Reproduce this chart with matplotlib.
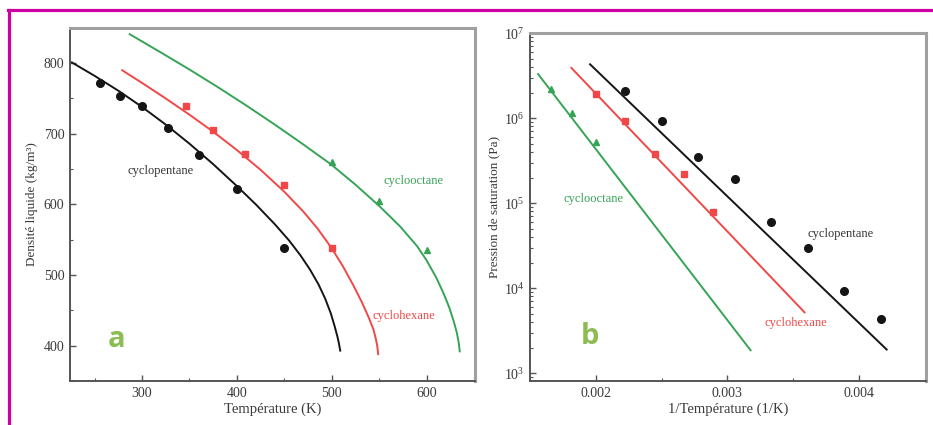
import numpy as np
import matplotlib
matplotlib.use("Agg")
import matplotlib.pyplot as plt
from matplotlib.lines import Line2D
from matplotlib.ticker import MultipleLocator, LogLocator, LogFormatterMathtext, NullFormatter

plt.rcParams['font.family'] = ['Liberation Serif', 'DejaVu Serif']
plt.rcParams['mathtext.fontset'] = 'stix'

# --- panel a : liquid density vs temperature ---
T_cp = [256, 277, 300, 327, 360, 400, 450]
rho_cp = [772, 754, 739, 708, 670, 622, 538]
T_ch = [346, 375, 409, 450, 500]
rho_ch = [739, 705, 672, 627, 538]
T_co = [500, 550, 600]
rho_co = [660, 605, 535]

# model curves
Tc_cp = [226, 250, 275, 300, 325, 350, 375, 400, 420, 440, 455, 467, 477, 486,
         493, 499, 503, 506, 507.5, 509]
rc_cp = [801, 782, 761, 738, 713, 686, 657, 626, 600, 572, 549, 528, 508, 487,
         467, 446, 428, 413, 404, 393]
Tc_ch = [279, 300, 325, 350, 375, 400, 425, 450, 470, 485, 500, 512, 523, 532,
         539, 544, 546.5, 548, 549]
rc_ch = [790, 772, 750, 727, 703, 677, 649, 618, 590, 566, 538, 512, 485, 461,
         440, 423, 410, 400, 388]
Tc_co = [287, 320, 350, 380, 410, 440, 470, 500, 525, 550, 572, 590, 600, 610,
         618, 624, 629, 632, 634, 635]
rc_co = [841, 815, 791, 766, 740, 713, 685, 656, 628, 598, 569, 541, 521, 497,
         474, 454, 433, 418, 404, 392]

# --- panel b : saturation pressure vs 1/T ---
invT_cp = [0.00222, 0.00250, 0.00278, 0.00306, 0.00333, 0.00361, 0.00389, 0.00417]
P_cp = [2.1e6, 9.3e5, 3.5e5, 1.9e5, 6.0e4, 3.0e4, 9.2e3, 4.4e3]
invT_ch = [0.00200, 0.00222, 0.00245, 0.00267, 0.00289]
P_ch = [1.9e6, 9.3e5, 3.8e5, 2.2e5, 7.8e4]
invT_co = [0.00166, 0.00182, 0.00200]
P_co = [2.2e6, 1.14e6, 5.3e5]

lineT_cp = [0.001957, 0.004211]
lineP_cp = [4.3e6, 1.9e3]
lineT_ch = [0.001815, 0.003587]
lineP_ch = [3.9e6, 5.2e3]
lineT_co = [0.001562, 0.003177]
lineP_co = [3.3e6, 1.86e3]

black = '#151515'
red = '#f04848'
green = '#36a456'
txt = '#3a3a3a'

fig = plt.figure(figsize=(9.33, 4.25), dpi=100)
ax1 = fig.add_axes([0.075, 0.1035, 0.434, 0.831])
ax2 = fig.add_axes([0.568, 0.1035, 0.4245, 0.8185])


def style(ax):
    for s in ['left', 'bottom']:
        ax.spines[s].set_color('#555555')
        ax.spines[s].set_linewidth(1.4)
    for s in ['top', 'right']:
        ax.spines[s].set_color('#a0a0a0')
        ax.spines[s].set_linewidth(2.2)
    ax.tick_params(which='both', direction='in', colors='#555555', labelcolor=txt,
                   labelsize=10, top=False, right=False, pad=4)
    ax.tick_params(which='major', length=4, width=1)
    ax.tick_params(which='minor', length=2.5, width=0.8)


# panel a
ax1.plot(Tc_cp, rc_cp, color=black, lw=1.4)
ax1.plot(Tc_ch, rc_ch, color=red, lw=1.4)
ax1.plot(Tc_co, rc_co, color=green, lw=1.4)
ax1.plot(T_cp, rho_cp, 'o', color=black, ms=5.5)
ax1.plot(T_ch, rho_ch, 's', color=red, ms=4.5)
ax1.plot(T_co, rho_co, '^', color=green, ms=5)
ax1.set_xlim(224, 651)
ax1.set_ylim(350, 850)
ax1.xaxis.set_major_locator(MultipleLocator(100))
ax1.xaxis.set_minor_locator(MultipleLocator(50))
ax1.yaxis.set_major_locator(MultipleLocator(100))
ax1.yaxis.set_minor_locator(MultipleLocator(50))
style(ax1)
ax1.set_xlabel('Température (K)', fontsize=10.5, color=txt, labelpad=2)
ax1.set_ylabel('Densité liquide (kg/m³)', fontsize=9.5, color=txt, labelpad=4)
ax1.text(319, 647, 'cyclopentane', fontsize=9, color='#333333', ha='center', va='center')
ax1.text(576, 442, 'cyclohexane', fontsize=9, color=red, ha='center', va='center')
ax1.text(586, 633, 'cyclooctane', fontsize=9, color=green, ha='center', va='center')
ax1.text(0.115, 0.117, 'a', transform=ax1.transAxes, fontsize=21, fontweight='bold',
         color='#8bbd52', family=['Open Sans', 'DejaVu Sans'], ha='center', va='center')

# panel b
ax2.plot(lineT_cp, lineP_cp, color=black, lw=1.4)
ax2.plot(lineT_ch, lineP_ch, color=red, lw=1.4)
ax2.plot(lineT_co, lineP_co, color=green, lw=1.4)
ax2.plot(invT_cp, P_cp, 'o', color=black, ms=5.5)
ax2.plot(invT_ch, P_ch, 's', color=red, ms=4.5)
ax2.plot(invT_co, P_co, '^', color=green, ms=5)
ax2.set_yscale('log')
ax2.set_xlim(0.0015, 0.00451)
ax2.set_ylim(810, 1e7)
ax2.xaxis.set_major_locator(MultipleLocator(0.001))
ax2.xaxis.set_minor_locator(MultipleLocator(0.0005))
ax2.xaxis.set_major_formatter(matplotlib.ticker.FormatStrFormatter('%.3f'))
ax2.yaxis.set_major_locator(LogLocator(base=10))
ax2.yaxis.set_minor_locator(LogLocator(base=10, subs=np.arange(2, 10)))
ax2.yaxis.set_major_formatter(LogFormatterMathtext())
ax2.yaxis.set_minor_formatter(NullFormatter())
style(ax2)
ax2.set_xlabel('1/Température (1/K)', fontsize=10.5, color=txt, labelpad=2)
ax2.set_ylabel('Pression de saturation (Pa)', fontsize=9.5, color=txt, labelpad=2)
ax2.text(0.001985, 1.12e5, 'cyclooctane', fontsize=9, color=green, ha='center', va='center')
ax2.text(0.00386, 4.3e4, 'cyclopentane', fontsize=9, color='#333333', ha='center', va='center')
ax2.text(0.003523, 3.9e3, 'cyclohexane', fontsize=9, color=red, ha='center', va='center')
ax2.text(0.151, 0.128, 'b', transform=ax2.transAxes, fontsize=21, fontweight='bold',
         color='#8bbd52', family=['Open Sans', 'DejaVu Sans'], ha='center', va='center')

# magenta frame
fig.add_artist(Line2D([8 / 933, 1], [1 - 10 / 425, 1 - 10 / 425], color='#cc00a3', lw=2.3))
fig.add_artist(Line2D([9 / 933, 9 / 933], [0, 1 - 10 / 425], color='#cc00a3', lw=2.3))

fig.savefig('out.png', dpi=100)
